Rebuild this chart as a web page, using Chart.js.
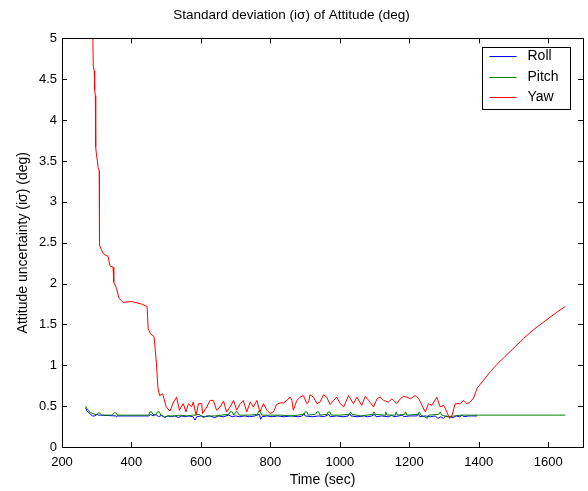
<!DOCTYPE html>
<html>
<head>
<meta charset="utf-8">
<script src="https://cdn.jsdelivr.net/npm/chart.js@4"></script>
<style>
  html, body { margin: 0; padding: 0; background: #fff; }
  #wrap { width: 588px; height: 491px; }
</style>
</head>
<body>
<div id="wrap"><canvas id="chart" width="588" height="491"></canvas></div>
<script>
// tick values
const xTicks = [200, 400, 600, 800, 1000, 1200, 1400, 1600];
const yTicks = [0, 0.5, 1, 1.5, 2, 2.5, 3, 3.5, 4, 4.5, 5];

// Roll
const rollTime = [268, 272, 278, 282, 288, 295, 300, 305, 310, 355, 357, 360, 450, 455, 462, 470, 478, 487, 495, 505,
  515, 525, 535, 545, 555, 565, 577, 583, 588, 600, 612, 625, 640, 650, 665, 680, 690, 700, 712, 725,
  740, 755, 768, 772, 776, 790, 805, 820, 840, 860, 880, 892, 896, 900, 920, 940, 955, 968, 972, 990,
  1010, 1024, 1028, 1032, 1050, 1070, 1080, 1092, 1100, 1104, 1120, 1140, 1150, 1154, 1170, 1180, 1184, 1200, 1222, 1226,
  1230, 1245, 1260, 1275, 1282, 1290, 1298, 1305, 1315, 1325, 1335, 1345, 1352, 1357, 1370, 1380, 1395];
const rollVal = [0.48, 0.44, 0.42, 0.40, 0.38, 0.38, 0.40, 0.39, 0.39, 0.38, 0.37, 0.38, 0.38, 0.40, 0.38, 0.40, 0.37, 0.39, 0.36, 0.38,
  0.37, 0.38, 0.36, 0.38, 0.37, 0.38, 0.37, 0.33, 0.37, 0.38, 0.37, 0.38, 0.36, 0.38, 0.37, 0.39, 0.37, 0.38, 0.37, 0.38,
  0.37, 0.38, 0.40, 0.34, 0.37, 0.38, 0.37, 0.38, 0.37, 0.38, 0.37, 0.38, 0.41, 0.38, 0.37, 0.38, 0.37, 0.40, 0.37, 0.38,
  0.37, 0.38, 0.41, 0.38, 0.37, 0.38, 0.37, 0.38, 0.40, 0.37, 0.38, 0.37, 0.39, 0.37, 0.38, 0.39, 0.37, 0.38, 0.38, 0.41,
  0.37, 0.38, 0.37, 0.38, 0.35, 0.37, 0.35, 0.38, 0.37, 0.36, 0.38, 0.37, 0.39, 0.37, 0.38, 0.38, 0.38];

// Pitch
const pitchTime = [268, 272, 276, 282, 290, 300, 305, 310, 315, 345, 350, 355, 360, 450, 453, 458, 462, 470, 475, 480,
  485, 495, 505, 520, 540, 560, 575, 583, 595, 607, 615, 640, 660, 680, 684, 690, 695, 700, 705, 710,
  740, 763, 766, 771, 775, 800, 830, 860, 897, 900, 905, 909, 930, 934, 939, 943, 963, 967, 971, 975,
  1000, 1027, 1031, 1035, 1060, 1095, 1098, 1102, 1130, 1132, 1136, 1160, 1162, 1166, 1186, 1189, 1193, 1226, 1229, 1233,
  1248, 1252, 1256, 1285, 1289, 1293, 1310, 1330, 1350, 1375, 1400, 1649];
const pitchVal = [0.50, 0.47, 0.45, 0.42, 0.41, 0.39, 0.42, 0.41, 0.39, 0.39, 0.42, 0.42, 0.39, 0.39, 0.43, 0.43, 0.40, 0.39, 0.43, 0.43,
  0.39, 0.37, 0.38, 0.38, 0.39, 0.38, 0.39, 0.39, 0.40, 0.36, 0.38, 0.38, 0.39, 0.40, 0.43, 0.43, 0.39, 0.43, 0.43, 0.39,
  0.39, 0.40, 0.44, 0.43, 0.39, 0.39, 0.39, 0.38, 0.40, 0.43, 0.43, 0.39, 0.40, 0.43, 0.43, 0.39, 0.40, 0.43, 0.43, 0.39,
  0.39, 0.40, 0.43, 0.40, 0.38, 0.40, 0.43, 0.40, 0.39, 0.43, 0.39, 0.39, 0.43, 0.39, 0.40, 0.43, 0.39, 0.40, 0.43, 0.39,
  0.36, 0.35, 0.39, 0.40, 0.43, 0.39, 0.37, 0.38, 0.39, 0.39, 0.39, 0.39];

// Yaw
const yawTime = [286, 289, 290, 293, 294, 296, 297, 300, 302, 304, 307, 308, 313, 318, 333, 338, 347, 349, 357, 364,
  376, 400, 429, 445, 448, 454, 465, 472, 476, 481, 490, 500, 511, 521, 530, 538, 549, 557, 564, 573,
  578, 586, 593, 602, 605, 617, 626, 636, 645, 655, 665, 674, 684, 694, 703, 713, 722, 732, 742, 751,
  761, 770, 780, 790, 799, 809, 818, 828, 838, 847, 857, 862, 866, 876, 886, 895, 905, 910, 914, 924,
  934, 943, 953, 962, 972, 982, 991, 1001, 1011, 1025, 1039, 1049, 1063, 1073, 1083, 1097, 1107, 1116, 1126, 1140,
  1150, 1164, 1174, 1183, 1193, 1203, 1217, 1227, 1246, 1255, 1265, 1279, 1289, 1299, 1308, 1316, 1323, 1332, 1347, 1356,
  1366, 1375, 1385, 1395, 1414, 1433, 1452, 1471, 1491, 1510, 1529, 1548, 1568, 1587, 1606, 1625, 1649];
const yawVal = [6.0, 4.95, 4.66, 4.6, 4.37, 4.3, 3.67, 3.55, 3.5, 3.42, 3.38, 2.47, 2.42, 2.37, 2.33, 2.22, 2.2, 2.02, 1.94, 1.82,
  1.77, 1.78, 1.75, 1.72, 1.45, 1.39, 1.35, 1.02, 0.73, 0.63, 0.65, 0.49, 0.44, 0.55, 0.61, 0.45, 0.53, 0.43, 0.53, 0.49,
  0.55, 0.39, 0.53, 0.53, 0.41, 0.49, 0.57, 0.57, 0.45, 0.49, 0.56, 0.43, 0.49, 0.57, 0.45, 0.53, 0.57, 0.43, 0.55, 0.49,
  0.57, 0.43, 0.53, 0.45, 0.41, 0.43, 0.52, 0.54, 0.54, 0.57, 0.61, 0.57, 0.45, 0.57, 0.61, 0.63, 0.53, 0.55, 0.64, 0.61,
  0.53, 0.55, 0.64, 0.61, 0.52, 0.57, 0.61, 0.53, 0.49, 0.63, 0.53, 0.61, 0.51, 0.62, 0.57, 0.49, 0.59, 0.61, 0.57, 0.55,
  0.59, 0.53, 0.59, 0.62, 0.61, 0.59, 0.63, 0.59, 0.43, 0.53, 0.51, 0.61, 0.49, 0.51, 0.43, 0.35, 0.39, 0.53, 0.53, 0.57,
  0.53, 0.55, 0.60, 0.72, 0.82, 0.92, 1.01, 1.09, 1.17, 1.25, 1.33, 1.40, 1.47, 1.53, 1.59, 1.65, 1.72];

const FONT = "'Liberation Sans', Arial, sans-serif";

function pairs(ts, vs) {
  return ts.map((t, i) => ({ x: t, y: vs[i] }));
}

// box, inward ticks on all four sides, and the legend
const boxPlugin = {
  id: "matlabBox",
  afterDatasetsDraw(chart) {
    const { ctx, chartArea: a, scales } = chart;
    const tl = 5;
    ctx.save();
    ctx.strokeStyle = "#000";
    ctx.lineWidth = 1;
    ctx.beginPath();
    xTicks.forEach(v => {
      const px = Math.round(scales.x.getPixelForValue(v)) + 0.5;
      ctx.moveTo(px, a.bottom); ctx.lineTo(px, a.bottom - tl);
      ctx.moveTo(px, a.top); ctx.lineTo(px, a.top + tl);
    });
    yTicks.forEach(v => {
      const py = Math.round(scales.y.getPixelForValue(v)) + 0.5;
      ctx.moveTo(a.left, py); ctx.lineTo(a.left + tl, py);
      ctx.moveTo(a.right, py); ctx.lineTo(a.right - tl, py);
    });
    ctx.stroke();
    ctx.strokeRect(Math.round(a.left) + 0.5, Math.round(a.top) + 0.5,
      Math.round(a.right - a.left), Math.round(a.bottom - a.top));

    // legend
    const w = 88, h = 62;
    const lx = Math.round(a.right - 13 - w) + 0.5;
    const ly = Math.round(a.top + 9) + 0.5;
    ctx.fillStyle = "#fff";
    ctx.fillRect(lx, ly, w, h);
    ctx.strokeStyle = "#000";
    ctx.strokeRect(lx, ly, w, h);
    ctx.font = "14px " + FONT;
    ctx.textBaseline = "middle";
    chart.data.datasets.forEach((ds, i) => {
      const y = Math.round(ly + 8.5 + i * 20.7) + 0.5;
      ctx.beginPath();
      ctx.strokeStyle = ds.borderColor;
      ctx.moveTo(lx + 7, y);
      ctx.lineTo(lx + 34, y);
      ctx.stroke();
      ctx.fillStyle = "#000";
      ctx.fillText(ds.label, lx + 45, y);
    });
    ctx.restore();
  }
};

new Chart(document.getElementById("chart"), {
  type: "line",
  data: {
    datasets: [
      { label: "Roll", data: pairs(rollTime, rollVal), borderColor: "#0000ff", order: 3 },
      { label: "Pitch", data: pairs(pitchTime, pitchVal), borderColor: "#008000", order: 2 },
      { label: "Yaw", data: pairs(yawTime, yawVal), borderColor: "#ff0000", order: 1 }
    ]
  },
  options: {
    responsive: false,
    animation: false,
    events: [],
    layout: { padding: { top: 0, right: 5, left: 0, bottom: 0 } },
    elements: {
      line: { borderWidth: 1, tension: 0, fill: false },
      point: { radius: 0 }
    },
    plugins: {
      legend: { display: false },
      tooltip: { enabled: false },
      title: {
        display: true,
        text: "Standard deviation (i\u03c3) of Attitude (deg)",
        color: "#000",
        font: { family: FONT, size: 13.5, weight: "normal", lineHeight: 1.2 },
        padding: { top: 7, bottom: 15.2 }
      }
    },
    scales: {
      x: {
        type: "linear",
        min: 200,
        max: 1700,
        afterFit: s => { s.height = 44; },
        afterBuildTicks: s => { s.ticks = xTicks.map(v => ({ value: v })); },
        grid: { display: false, drawTicks: false },
        border: { display: false },
        ticks: { color: "#000", padding: 8, maxRotation: 0, font: { family: FONT, size: 13 }, callback: v => String(v) },
        title: {
          display: true, text: "Time (sec)", color: "#000",
          font: { family: FONT, size: 14, lineHeight: 1.2 },
          padding: { top: 0, bottom: 2.6 }
        }
      },
      y: {
        type: "linear",
        min: 0,
        max: 5,
        afterFit: s => { s.width = 62; },
        afterBuildTicks: s => { s.ticks = yTicks.map(v => ({ value: v })); },
        grid: { display: false, drawTicks: false },
        border: { display: false },
        ticks: { color: "#000", padding: 5, font: { family: FONT, size: 13 }, callback: v => String(v) },
        title: {
          display: true, text: "Attitude uncertainty (i\u03c3) (deg)", color: "#000",
          font: { family: FONT, size: 14, lineHeight: 1.2 },
          padding: { top: 14.6, bottom: 0 }
        }
      }
    }
  },
  plugins: [boxPlugin]
});
</script>
</body>
</html>
